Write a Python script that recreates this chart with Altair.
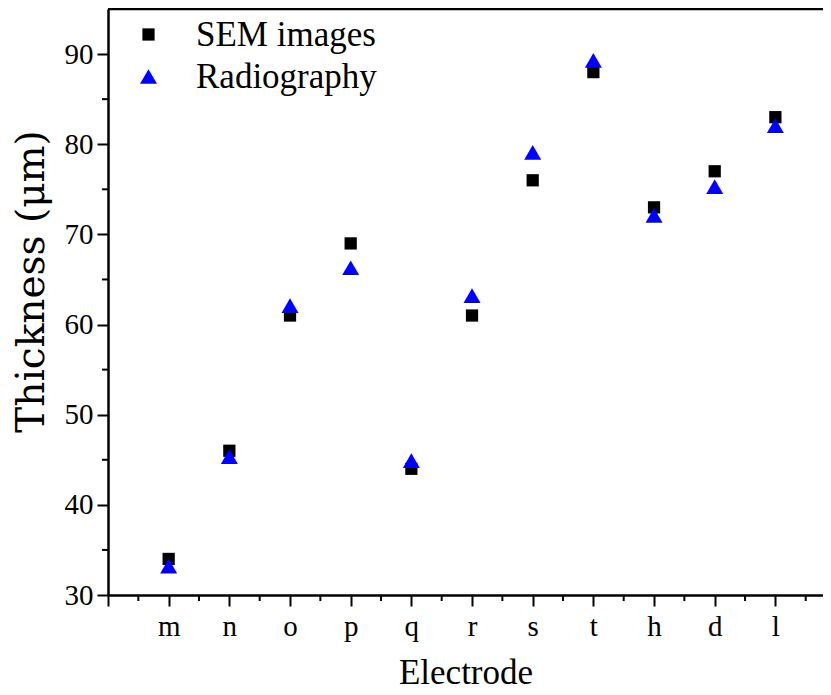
import altair as alt
import pandas as pd

# ---- data ----
electrodes = ["m", "n", "o", "p", "q", "r", "s", "t", "h", "d", "l"]
sem_images = [34, 46, 61, 69, 44, 61, 76, 88, 73, 77, 83]
radiography = [33.2, 45.35, 62.1, 66.3, 44.9, 63.2, 79.1, 89.3, 72.1, 75.3, 82.05]
series = ["SEM images", "Radiography"]
x_major = list(range(0, 12))
x_minor = [i + 0.5 for i in range(12)]
y_major = [30, 40, 50, 60, 70, 80, 90]
y_minor = [35, 45, 55, 65, 75, 85]
y_top = [95]

rows = []
for name, vals in zip(series, [sem_images, radiography]):
    for i, (e, v) in enumerate(zip(electrodes, vals)):
        rows.append({"pos": i + 1, "electrode": e, "value": v, "series": name})
df = pd.DataFrame(rows)

W, H = 715, 586
FONT = "Liberation Serif"
label_expr = "[" + ",".join(["''"] + [f"'{e}'" for e in electrodes]) + "][datum.value]"

xscale = alt.Scale(domain=[0, 11.785], nice=False, zero=False)
yscale = alt.Scale(domain=[30, 95], nice=False, zero=False)

common = dict(
    labelFont=FONT, labelColor="black", titleColor="black",
    domainColor="black", tickColor="black", titleFontWeight="normal",
    labelFontWeight="normal", tickSize=11, tickWidth=2, domainWidth=2.5,
    labelFontSize=29, grid=False,
)
xaxis = alt.Axis(values=x_major, labelExpr=label_expr, title="Electrode",
                 titleFont=FONT, titleFontSize=35, labelPadding=6,
                 titlePadding=14, **common)
yaxis = alt.Axis(values=y_major, title="Thickness (μm)",
                 titleFont="DejaVu Serif", titleFontSize=39, labelPadding=4,
                 titlePadding=13, titleY=272, **common)

leg = alt.Legend(
    title=None, orient="none", legendX=23, legendY=8,
    labelFont=FONT, labelFontSize=35, labelColor="black", labelLimit=400,
    labelOffset=30, rowPadding=6, padding=0,
    symbolStrokeWidth=0, symbolOpacity=1,
)

points = alt.Chart(df).mark_point(filled=True, opacity=1, strokeWidth=0).encode(
    x=alt.X("pos:Q", scale=xscale, axis=xaxis),
    y=alt.Y("value:Q", scale=yscale, axis=yaxis),
    color=alt.Color("series:N", scale=alt.Scale(domain=series, range=["#000000", "#0000ff"]), legend=leg),
    shape=alt.Shape("series:N", scale=alt.Scale(domain=series, range=["square", "triangle-up"]), legend=leg),
    size=alt.Size("series:N", scale=alt.Scale(domain=series, range=[150, 289]), legend=leg),
)

xminor = alt.Chart(pd.DataFrame({"p": x_minor})).mark_rule(color="black", strokeWidth=2).encode(
    x=alt.X("p:Q", scale=xscale, axis=xaxis),
    y=alt.value(H), y2=alt.value(H + 6),
)
yminor = alt.Chart(pd.DataFrame({"p": y_minor})).mark_rule(color="black", strokeWidth=2).encode(
    y=alt.Y("p:Q", scale=yscale, axis=yaxis),
    x=alt.value(-6), x2=alt.value(0),
)
frame = alt.Chart(pd.DataFrame({"t": y_top})).mark_rule(color="black", strokeWidth=2.5, clip=False).encode(
    y=alt.Y("t:Q", scale=yscale, axis=yaxis),
)

chart = alt.layer(points, xminor, yminor, frame).properties(
    width=W, height=H, autosize="none",
    padding={"left": 100, "top": 1, "right": 0, "bottom": 92},
).configure_view(stroke="black", strokeWidth=2.5).configure(background="white")

chart.save("out.html", embed_options={"renderer": "svg", "actions": False})
